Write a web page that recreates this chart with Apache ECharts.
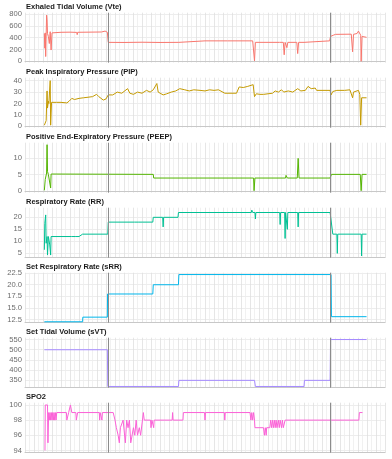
<!DOCTYPE html>
<html>
<head>
<meta charset="utf-8">
<script src="https://cdn.jsdelivr.net/npm/echarts@6/dist/echarts.min.js"></script>
<style>
  html, body { margin: 0; padding: 0; background: #fff; }
  #chart { width: 392px; height: 459px; }
</style>
</head>
<body>
<div id="chart"></div>
<script>
// panel titles, top to bottom
const titles = [
  'Exhaled Tidal Volume (Vte)',
  'Peak Inspiratory Pressure (PIP)',
  'Positive End-Expiratory Pressure (PEEP)',
  'Respiratory Rate (RR)',
  'Set Respiratory Rate (sRR)',
  'Set Tidal Volume (sVT)',
  'SPO2'
]
const colors = ['#F8766D', '#C49A00', '#53B400', '#00C094', '#00B6EB', '#A58AFF', '#FB61D7']

// hours of the two event markers
const eventHours = [18.6, 67.8]

// [hour, value]
const vte = [[4.3,470],[4.4,220],[4.5,480],[4.6,80],[4.8,780],[4.9,700],[5.0,470],[5.2,420],[5.4,300],[5.6,500],[5.8,190],[6.0,480],[6.3,490],[8,490],[10,492],[11.5,488],[11.6,450],[11.7,490],[14,492],[17,495],[17.8,510],[18.0,495],[18.3,490],[18.5,320],[22,318],[26,322],[30,318],[34.2,320],[34.3,345],[40,345],[45,345],[50.6,345],[50.8,320],[51.0,5],[51.2,320],[56,320],[56.4,300],[56.6,320],[57.4,320],[57.6,110],[57.8,320],[58.2,230],[58.4,320],[60.4,320],[60.6,130],[60.8,320],[62.0,320],[62.1,345],[67.7,345],[67.9,420],[68.5,440],[69,455],[72.5,458],[72.7,458],[72.8,160],[73.0,455],[73.8,470],[74.1,510],[74.4,480],[74.6,440],[74.7,0],[74.9,420],[75.3,405],[75.9,405]]

const pip = [[4.3,1],[4.5,2],[4.7,5],[4.8,4],[4.9,31],[5.0,16],[5.2,22],[5.3,20],[5.5,19],[5.6,40],[5.7,1],[5.9,21],[6.2,21],[7,21],[8,21],[9.3,20.5],[9.8,22],[10.4,24.5],[11,23.5],[12,24.5],[13,25],[14,25.5],[15,26],[15.9,28],[16.4,26],[17.4,23],[18,24],[18.5,27.5],[18.9,29],[19.5,27.5],[20.5,30],[21.5,29],[22.8,33],[23.3,29],[24.1,28],[25,30],[26,29],[27,31.5],[27.8,30],[28.5,32],[29.3,37.5],[29.6,30],[30.7,27.5],[31.5,28.5],[32.5,30],[33.5,31],[34.4,33],[35.5,32],[36.5,31],[37.5,32],[38.9,31.5],[40,31],[41,32],[42,31.5],[43,32],[44.4,29],[46,29],[47,29],[47.6,34.5],[48.5,34],[49.5,35],[50.7,36.5],[51.0,26],[51.4,28.5],[52.2,28],[53,28],[54,28.5],[55,29],[55.6,31],[56.3,30],[57,32],[57.5,30],[58.5,31],[59.5,30],[60.6,33],[61.3,31],[62.3,31.5],[62.9,35],[63.6,33],[64.5,33.5],[64.8,31.5],[66,31.5],[67.8,31.5],[68.0,27.5],[68.4,30.5],[69.3,31.5],[71,31.5],[72.2,32],[72.6,32],[72.8,25],[73.0,30],[74.1,31.5],[74.4,28],[74.6,1],[74.8,25],[75.9,25]]

const peep = [[4.3,0.3],[4.5,3.6],[4.6,3.6],[4.7,4],[4.8,5.5],[4.9,14],[5.0,6],[5.2,5],[5.4,5.2],[5.6,5],[5.7,1],[5.8,5.2],[6.2,5.1],[28.5,5.1],[28.6,4],[50.8,4],[50.9,0.2],[51.1,4],[57.9,4],[58.0,4.8],[58.2,4.8],[58.3,4],[60.5,4],[60.7,9.9],[60.9,4],[67.8,4],[68.1,5.1],[74.5,5.1],[74.7,0.2],[74.9,5.1],[75.9,5.1]]

const rr = [[4.3,6.5],[4.4,17.5],[4.5,16.8],[4.6,21],[4.7,9.2],[4.9,12],[5.0,4.3],[5.2,12],[5.4,12],[5.5,8.5],[5.7,4.3],[5.8,12],[6.2,12],[10.3,12],[10.4,12.7],[10.5,12],[11.3,12],[11.4,12.7],[11.5,12],[12.0,12],[12.1,12.7],[12.2,12],[12.8,13],[18.4,13],[18.5,18],[24.3,18],[24.4,18.7],[24.5,18],[25.3,18],[25.4,18.7],[25.5,18],[26.2,18],[26.3,18.7],[26.4,18],[28.4,18],[28.5,20],[30.6,20],[30.7,16],[30.8,20],[34.0,20],[34.1,22],[50.3,22],[50.4,23],[50.6,22],[51.1,22],[51.2,19.3],[51.3,22],[56.6,22],[56.7,17],[56.8,22],[57.7,22],[57.8,11.2],[57.9,22],[58.2,22],[58.3,15],[58.4,22],[60.6,22],[60.7,16],[60.8,22],[67.8,22],[68.4,13],[69.3,13],[69.4,5],[69.5,13],[72.9,13],[73.0,13.8],[73.1,13],[74.7,13],[74.8,3.9],[74.9,13],[75.9,13]]

const srr = [[4.3,12],[12.8,12],[12.85,13],[18.3,13],[18.35,18],[28.4,18],[28.5,20],[34.1,20],[34.2,22.2],[68.0,22.2],[68.1,13.1],[75.9,13.1]]

const svt = [[4.3,500],[18.3,500],[18.4,320],[34.1,320],[34.2,350],[51.0,350],[51.2,320],[62.0,320],[62.1,350],[67.8,350],[67.9,550],[75.9,550]]

const spo2 = [[4.44,94],[4.5,100],[5.0,100],[5.1,95],[5.26,99],[5.4,98],[5.55,99],[5.7,98],[5.85,99],[6.0,98],[6.15,99],[6.3,98],[6.45,99],[6.6,98],[6.75,99],[6.9,98],[7.05,99],[9.2,99],[9.3,98],[9.6,98],[9.7,99],[10.0,99],[10.1,100],[10.3,100],[10.4,99],[11.3,99],[11.4,98],[11.6,98],[11.7,99],[16.5,99],[16.6,98],[16.7,99],[17.0,99],[17.1,98],[17.2,99],[19.6,99],[20.0,98],[20.3,97],[20.5,97],[20.7,96],[20.96,95],[21.2,97],[21.56,97],[21.8,98],[22.0,98],[22.3,95],[22.6,98],[22.9,97],[23.2,98],[23.5,95],[23.8,95],[24.1,97],[24.4,96],[24.7,98],[25.0,96],[25.4,97],[25.7,96],[26.1,96],[26.3,99],[26.5,98],[27.9,98],[28.0,97],[28.2,98],[28.6,97],[28.7,98],[32.7,98],[32.8,99],[32.9,98],[35.1,98],[35.2,99],[39.9,99],[40.0,98],[40.1,99],[44.3,99],[44.4,98],[44.5,99],[50.0,99],[50.2,98],[50.4,99],[50.6,98],[50.8,99],[51.0,98],[51.1,97],[53.0,97],[53.2,96],[53.4,97],[53.6,96],[53.7,97],[54.4,97],[54.6,98],[54.8,97],[55.0,98],[55.2,97],[55.4,98],[55.6,97],[55.8,98],[56.0,97],[56.3,98],[56.5,97],[56.7,98],[57.0,97],[57.2,98],[57.4,97],[57.8,98],[74.2,98],[74.3,99],[75.0,99]]

const panels = [vte, pip, peep, rr, srr, svt, spo2]

const yTicks = [
  [0, 200, 400, 600, 800],
  [0, 10, 20, 30, 40],
  [0, 5, 10],
  [5, 10, 15, 20],
  [12.5, 15, 17.5, 20, 22.5],
  [350, 400, 450, 500, 550],
  [94, 96, 98, 100]
]
const yRanges = [[-24, 821], [-1.2, 42.6], [-0.4, 14.6], [3.2, 24], [11.8, 22.6], [314, 559], [93.7, 100.3]]
const xRange = [0, 80]

const font = 'Liberation Sans, Arial, sans-serif'
const panelTop = 12.7
const panelStep = 65
const panelHeight = 50

let chart = echarts.init(document.getElementById('chart'), null, { renderer: 'canvas' })

let option = {
  animation: false,
  title: titles.map((t, i) => ({
    text: t,
    left: 26,
    top: i * panelStep + 2.8,
    padding: 0,
    textStyle: { fontSize: 7.5, fontWeight: 'bold', color: '#1a1a1a', fontFamily: font }
  })),
  grid: panels.map((p, i) => ({
    left: 25,
    right: 7,
    top: panelTop + i * panelStep,
    height: panelHeight
  })),
  xAxis: panels.map((p, i) => ({
    type: 'value',
    gridIndex: i,
    min: xRange[0],
    max: xRange[1],
    interval: 2,
    axisLabel: { show: false },
    axisTick: { show: false },
    axisLine: { show: true, lineStyle: { color: '#c8c8c8', width: 1 } },
    splitLine: { show: true, lineStyle: { color: '#e0e0e0', width: 0.8 } },
    minorTick: { show: false, splitNumber: 2 },
    minorSplitLine: { show: true, lineStyle: { color: '#eeeeee', width: 0.8 } }
  })),
  yAxis: panels.map((p, i) => ({
    type: 'value',
    gridIndex: i,
    min: yRanges[i][0],
    max: yRanges[i][1],
    axisLine: { show: false },
    axisTick: { show: false, customValues: yTicks[i] },
    axisLabel: {
      customValues: yTicks[i],
      color: '#6b6b6b',
      fontSize: 7.6,
      fontFamily: font,
      margin: 3,
      formatter: v => (i === 4 ? v.toFixed(1) : String(v))
    },
    splitLine: { show: true, lineStyle: { color: '#e8e8e8', width: 0.8 } }
  })),
  series: panels.map((p, i) => ({
    type: 'line',
    xAxisIndex: i,
    yAxisIndex: i,
    data: p,
    symbol: 'none',
    lineStyle: { color: colors[i], width: 1 },
    markLine: {
      silent: true,
      symbol: 'none',
      label: { show: false },
      lineStyle: { color: '#8c8c8c', width: 1, type: 'solid' },
      data: eventHours.map(h => ({ xAxis: h }))
    }
  }))
}

chart.setOption(option)
</script>
</body>
</html>
